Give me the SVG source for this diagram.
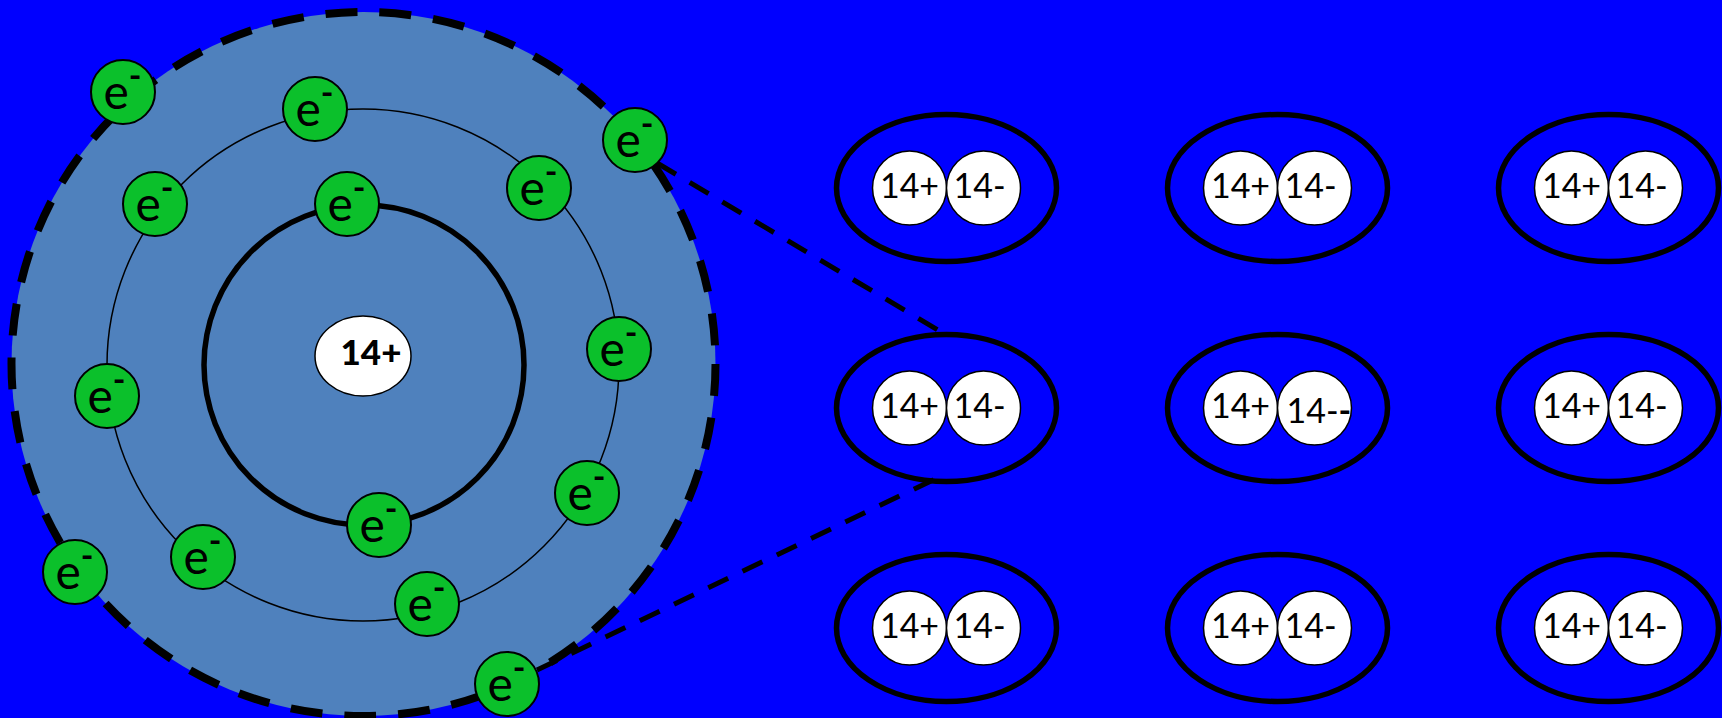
<svg xmlns="http://www.w3.org/2000/svg" width="1722" height="718" viewBox="0 0 1722 718">
  <style>
    .shell { fill: #4F81BD; stroke: #000; stroke-width: 8; stroke-dasharray: 32 22; }
    .ring-inner { fill: none; stroke: #000; stroke-width: 5.5; }
    .ring-outer { fill: none; stroke: #000; stroke-width: 1.5; }
    .nucleus { fill: #fff; stroke: #000; stroke-width: 1.5; }
    .e-ball { fill: #0BC02B; stroke: #000; stroke-width: 2; }
    .e-txt { font-family: Lato, "Liberation Sans", sans-serif; font-size: 48px; fill: #000; }
    .e-sup { font-size: 34px; font-weight: 700; }
    .cell-ring { fill: none; stroke: #000; stroke-width: 5.5; }
    .ion { fill: #fff; stroke: #000; stroke-width: 1.5; }
    .ion-txt { font-family: Lato, "Liberation Sans", sans-serif; font-size: 34px; fill: #000; text-anchor: middle; }
    .label-bold { font-family: Lato, "Liberation Sans", sans-serif; font-size: 35px; font-weight: 900; text-anchor: middle; fill: #000; }
    .link { stroke: #000; stroke-width: 5; stroke-dasharray: 22 16; fill: none; }
  </style>

  <defs>
    <!-- one electron: e with superscript minus -->
    <g id="e">
      <circle class="e-ball" cx="0" cy="0" r="32"/>
      <text class="e-txt" x="-19.5" y="17">e<tspan class="e-sup" dx="0" dy="-21">-</tspan></text>
    </g>
    <!-- ion pair inside a crystal cell -->
    <g id="cell">
      <ellipse class="cell-ring" cx="0" cy="0" rx="110" ry="73.5"/>
      <circle class="ion" cx="-37" cy="0" r="37"/>
      <circle class="ion" cx="37" cy="0" r="37"/>
    </g>
  </defs>

  <!-- background -->
  <rect x="0" y="0" width="1722" height="718" fill="#0000FF"/>

  <!-- atom: outer shell, orbits and nucleus -->
  <g id="atom">
    <circle class="shell" cx="363.5" cy="364" r="352"/>
    <circle class="ring-outer" cx="363" cy="365" r="256"/>
    <circle class="ring-inner" cx="364" cy="365" r="160"/>
    <g id="nucleus">
      <ellipse class="nucleus" cx="363" cy="356" rx="48" ry="40"/>
      <text class="label-bold" x="371" y="365">14+</text>
    </g>
  </g>

  <!-- zoom lines from the atom to one cell -->
  <g id="connectors">
    <line class="link" x1="657" y1="163" x2="938" y2="330"/>
    <line class="link" x1="537" y1="670" x2="935" y2="479"/>
  </g>

  <!-- electrons -->
  <g id="electrons">
    <use id="e1" href="#e" x="123" y="92"/>
    <use id="e2" href="#e" x="315" y="109"/>
    <use id="e3" href="#e" x="635" y="140"/>
    <use id="e4" href="#e" x="155" y="204"/>
    <use id="e5" href="#e" x="347" y="204"/>
    <use id="e6" href="#e" x="539" y="188"/>
    <use id="e7" href="#e" x="619" y="349"/>
    <use id="e8" href="#e" x="107" y="396"/>
    <use id="e9" href="#e" x="587" y="493"/>
    <use id="e10" href="#e" x="379" y="525"/>
    <use id="e11" href="#e" x="203" y="557"/>
    <use id="e12" href="#e" x="75" y="572"/>
    <use id="e13" href="#e" x="427" y="604"/>
    <use id="e14" href="#e" x="507" y="684"/>
  </g>

  <!-- crystal lattice of ion pairs -->
  <g id="cell-1-1" transform="translate(946.5 188)">
    <use href="#cell"/>
    <text class="ion-txt" x="-37" y="10">14+</text><text class="ion-txt" x="33" y="10">14-</text>
  </g>
  <g id="cell-1-2" transform="translate(1277.5 188)">
    <use href="#cell"/>
    <text class="ion-txt" x="-37" y="10">14+</text><text class="ion-txt" x="33" y="10">14-</text>
  </g>
  <g id="cell-1-3" transform="translate(1608.5 188)">
    <use href="#cell"/>
    <text class="ion-txt" x="-37" y="10">14+</text><text class="ion-txt" x="33" y="10">14-</text>
  </g>
  <g id="cell-2-1" transform="translate(946.5 408)">
    <use href="#cell"/>
    <text class="ion-txt" x="-37" y="10">14+</text><text class="ion-txt" x="33" y="10">14-</text>
  </g>
  <g id="cell-2-2" transform="translate(1277.5 408)">
    <use href="#cell"/>
    <text class="ion-txt" x="-37" y="10">14+</text>
    <text class="ion-txt" x="9" y="15" style="text-anchor:start">14-<tspan font-weight="700">-</tspan></text>
  </g>
  <g id="cell-2-3" transform="translate(1608.5 408)">
    <use href="#cell"/>
    <text class="ion-txt" x="-37" y="10">14+</text><text class="ion-txt" x="33" y="10">14-</text>
  </g>
  <g id="cell-3-1" transform="translate(946.5 628)">
    <use href="#cell"/>
    <text class="ion-txt" x="-37" y="10">14+</text><text class="ion-txt" x="33" y="10">14-</text>
  </g>
  <g id="cell-3-2" transform="translate(1277.5 628)">
    <use href="#cell"/>
    <text class="ion-txt" x="-37" y="10">14+</text><text class="ion-txt" x="33" y="10">14-</text>
  </g>
  <g id="cell-3-3" transform="translate(1608.5 628)">
    <use href="#cell"/>
    <text class="ion-txt" x="-37" y="10">14+</text><text class="ion-txt" x="33" y="10">14-</text>
  </g>
</svg>
